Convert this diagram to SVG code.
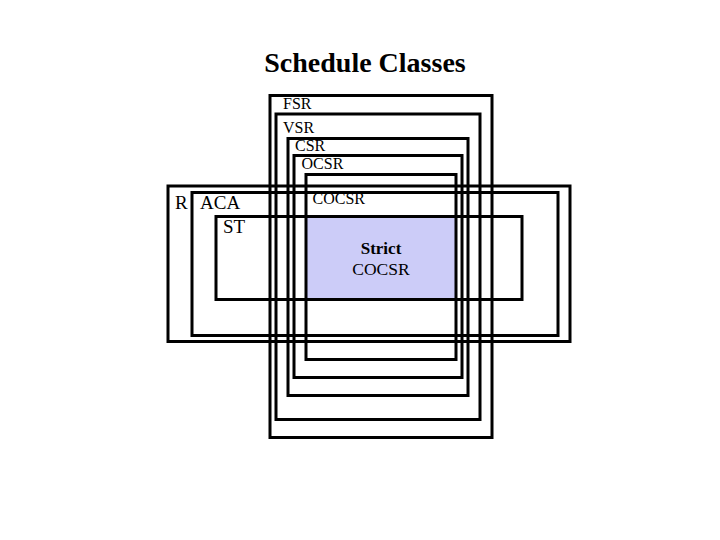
<svg xmlns="http://www.w3.org/2000/svg" width="720" height="540" viewBox="0 0 720 540">
<style>
.box{fill:none;stroke:#000;stroke-width:3}
.t{font-family:"Liberation Serif","Times New Roman",serif;fill:#000}
.s{font-size:16px}
.m{font-size:19px}
</style>
<rect width="720" height="540" fill="#fff"/>
<text class="t" x="365" y="72" font-size="28" font-weight="bold" text-anchor="middle">Schedule Classes</text>
<g id="strict"><rect x="306" y="216" width="150" height="83" fill="#CCCCF8" stroke="none"/>
<text class="t" x="381" y="254" font-size="17" font-weight="bold" text-anchor="middle" fill="#111133">Strict</text>
<text class="t" x="381" y="275" font-size="17.5" text-anchor="middle" fill="#111133">COCSR</text></g>
<g id="FSR"><rect class="box" x="270" y="95.5" width="222" height="342"/><text class="t s" x="283" y="109">FSR</text></g>
<g id="VSR"><rect class="box" x="276" y="114" width="204" height="305.5"/><text class="t s" x="283" y="133">VSR</text></g>
<g id="CSR"><rect class="box" x="288" y="138.5" width="180" height="257"/><text class="t s" x="295" y="151">CSR</text></g>
<g id="OCSR"><rect class="box" x="294" y="155.5" width="168" height="222"/><text class="t s" x="301.5" y="169">OCSR</text></g>
<g id="COCSR"><rect class="box" x="306" y="174.5" width="150" height="185"/><text class="t s" x="312.5" y="204">COCSR</text></g>
<g id="R"><rect class="box" x="168" y="186" width="402" height="155.5"/><text class="t m" x="175" y="209">R</text></g>
<g id="ACA"><rect class="box" x="192" y="192.5" width="366" height="143"/><text class="t m" x="200" y="209">ACA</text></g>
<g id="ST"><rect class="box" x="216" y="216.5" width="306" height="83"/><text class="t m" x="223" y="233">ST</text></g>
<g id="connectors"></g>
</svg>
